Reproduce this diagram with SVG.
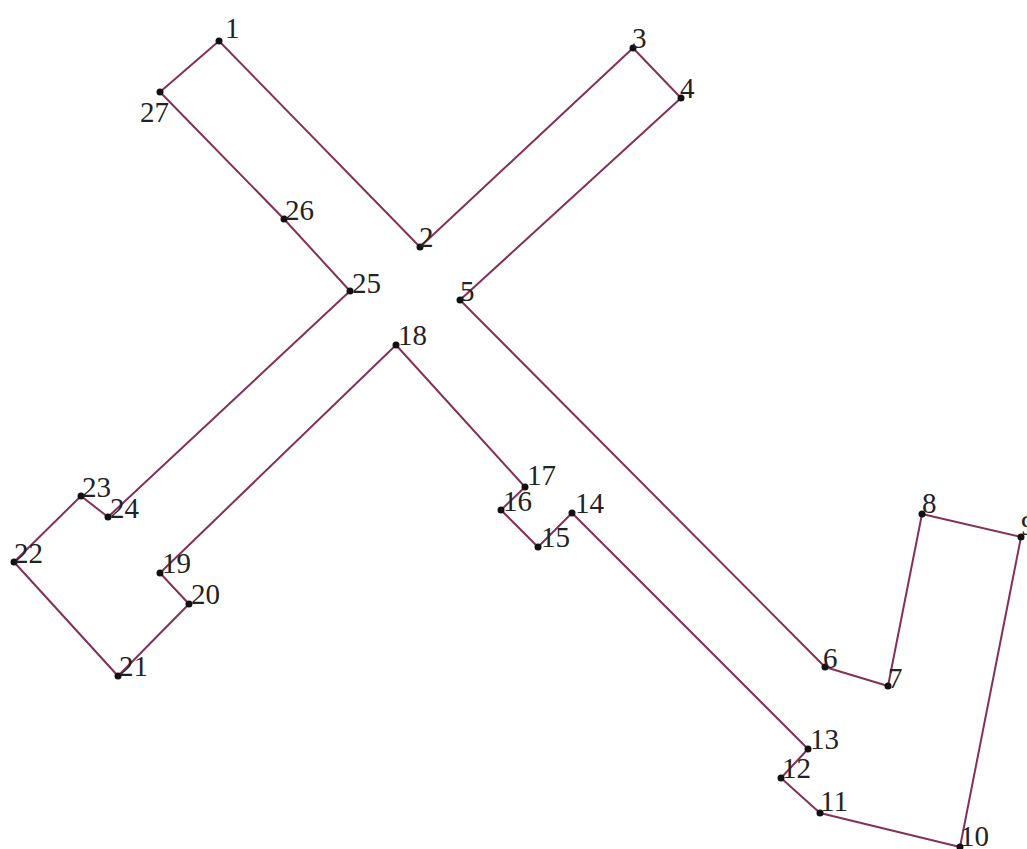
<svg xmlns="http://www.w3.org/2000/svg" width="1027" height="849" viewBox="0 0 1027 849">
<style>
.l{fill:none;stroke:#85305a;stroke-width:2;stroke-linejoin:round}
.d{fill:#111}
text{font-family:"Liberation Serif",serif;font-size:29px;fill:#222}
</style>
<rect width="1027" height="849" fill="#fff"/>
<g id="connectors"><polygon class="l" points="219,41 420,247 633,48 681,98 460,300 825,667 888,686 922,514 1021,537 960,847 820,813 781,778 808,749 572,513 538,547 501,510 525,487 396,345 160,573 189,604 118,676 14,562 81,496 108,517 350,291 284,219 160,92"/></g>
<g id="n1"><circle class="d" cx="219" cy="41" r="3.5"/><text x="225" y="38">1</text></g>
<g id="n2"><circle class="d" cx="420" cy="247" r="3.5"/><text x="419" y="247">2</text></g>
<g id="n3"><circle class="d" cx="633" cy="48" r="3.5"/><text x="632" y="48">3</text></g>
<g id="n4"><circle class="d" cx="681" cy="98" r="3.5"/><text x="680" y="98">4</text></g>
<g id="n5"><circle class="d" cx="460" cy="300" r="3.5"/><text x="460" y="301">5</text></g>
<g id="n6"><circle class="d" cx="825" cy="667" r="3.5"/><text x="823" y="668">6</text></g>
<g id="n7"><circle class="d" cx="888" cy="686" r="3.5"/><text x="888" y="688">7</text></g>
<g id="n8"><circle class="d" cx="922" cy="514" r="3.5"/><text x="922" y="513">8</text></g>
<g id="n9"><circle class="d" cx="1021" cy="537" r="3.5"/><text x="1021" y="535">9</text></g>
<g id="n10"><circle class="d" cx="960" cy="847" r="3.5"/><text x="960" y="846">10</text></g>
<g id="n11"><circle class="d" cx="820" cy="813" r="3.5"/><text x="820" y="811">11</text></g>
<g id="n12"><circle class="d" cx="781" cy="778" r="3.5"/><text x="782" y="778">12</text></g>
<g id="n13"><circle class="d" cx="808" cy="749" r="3.5"/><text x="810" y="749">13</text></g>
<g id="n14"><circle class="d" cx="572" cy="513" r="3.5"/><text x="575" y="513">14</text></g>
<g id="n15"><circle class="d" cx="538" cy="547" r="3.5"/><text x="541" y="547">15</text></g>
<g id="n16"><circle class="d" cx="501" cy="510" r="3.5"/><text x="503" y="511">16</text></g>
<g id="n17"><circle class="d" cx="525" cy="487" r="3.5"/><text x="527" y="485">17</text></g>
<g id="n18"><circle class="d" cx="396" cy="345" r="3.5"/><text x="398" y="345">18</text></g>
<g id="n19"><circle class="d" cx="160" cy="573" r="3.5"/><text x="162" y="573">19</text></g>
<g id="n20"><circle class="d" cx="189" cy="604" r="3.5"/><text x="191" y="604">20</text></g>
<g id="n21"><circle class="d" cx="118" cy="676" r="3.5"/><text x="119" y="676">21</text></g>
<g id="n22"><circle class="d" cx="14" cy="562" r="3.5"/><text x="14" y="563">22</text></g>
<g id="n23"><circle class="d" cx="81" cy="496" r="3.5"/><text x="82" y="497">23</text></g>
<g id="n24"><circle class="d" cx="108" cy="517" r="3.5"/><text x="110" y="518">24</text></g>
<g id="n25"><circle class="d" cx="350" cy="291" r="3.5"/><text x="352" y="293">25</text></g>
<g id="n26"><circle class="d" cx="284" cy="219" r="3.5"/><text x="285" y="220">26</text></g>
<g id="n27"><circle class="d" cx="160" cy="92" r="3.5"/><text x="140" y="122">27</text></g>
</svg>
